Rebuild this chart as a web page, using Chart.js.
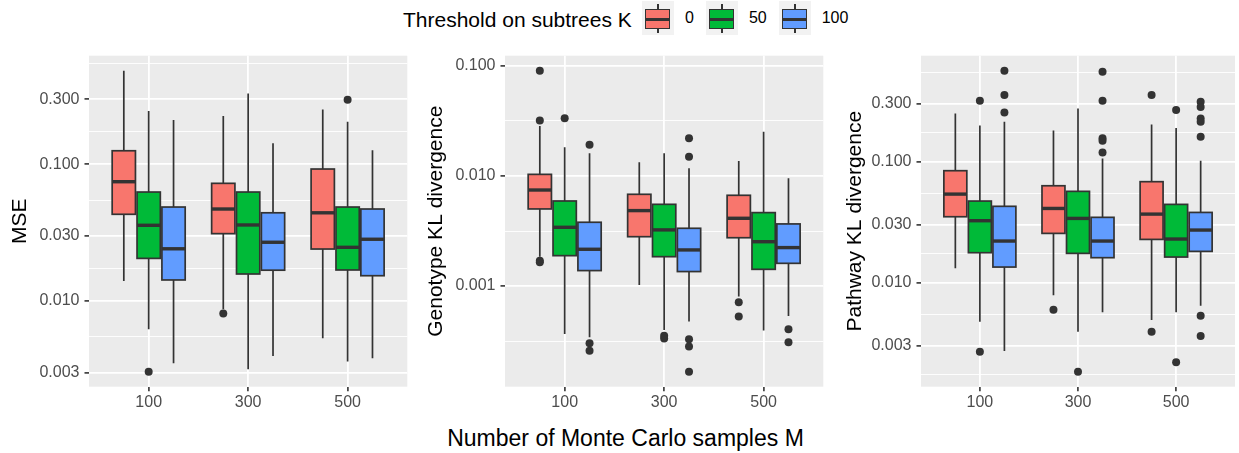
<!DOCTYPE html>
<html>
<head>
<meta charset="utf-8">
<script src="https://cdn.jsdelivr.net/npm/chart.js@4.4.1/dist/chart.umd.min.js"></script>
<style>
  html, body { margin: 0; padding: 0; background: #ffffff; width: 1239px; height: 453px; overflow: hidden;
    font-family: "Liberation Sans", Arial, sans-serif; }
  canvas.panel { position: absolute; top: 0; }
  #legendTitle { position: absolute; left: 403px; top: 9px; font-size: 21px; line-height: 21px; color: #000; white-space: nowrap; }
  #legendKeys { position: absolute; left: 642px; top: 1px; height: 34px; display: flex; align-items: center; }
  .key { position: relative; width: 32px; height: 34px; background: #F2F2F2; }
  .key .wh { position: absolute; left: 15.2px; width: 1.7px; background: #333333; }
  .key .bx { position: absolute; left: 3.4px; top: 8.3px; width: 25px; height: 19.3px; box-sizing: border-box; border: 1.7px solid #333333; }
  .key .md { position: absolute; left: 3.4px; width: 25px; top: 16.5px; height: 3px; background: #333333; }
  .klab { font-size: 16px; line-height: 16px; color: #000; margin-left: 11px; margin-right: 12px; }
  #xTitle { position: absolute; left: 0; width: 1251px; top: 427px; text-align: center; font-size: 23px; line-height: 23px; color: #000; white-space: nowrap; }
</style>
</head>
<body>
<div id="legendTitle">Threshold on subtrees K</div>
<div id="legendKeys"></div>
<canvas id="p1" class="panel" width="412" height="420" style="left:0px"></canvas>
<canvas id="p2" class="panel" width="413" height="420" style="left:415px"></canvas>
<canvas id="p3" class="panel" width="405" height="420" style="left:834px"></canvas>
<div id="xTitle">Number of Monte Carlo samples M</div>
<script>
// ---------------- DATA ----------------
const categories = ['100', '300', '500'];          // Monte Carlo samples M
const thresholds = ['0', '50', '100'];             // threshold on subtrees K
const fillColors = ['#F8766D', '#00BA38', '#619CFF'];

// rows = K (0, 50, 100); columns = M (100, 300, 500)
// ---- MSE ----
const mseLower  = [[0.0140, 0.0087, 0.00533], [0.00621, 0.00317, 0.0036], [0.0035, 0.00396, 0.00381]];
const mseQ1     = [[0.0431, 0.0311, 0.0240], [0.0205, 0.01576, 0.01686], [0.01425, 0.0168, 0.01531]];
const mseMedian = [[0.0746, 0.0471, 0.0442], [0.0358, 0.0360, 0.0247], [0.0241, 0.0269, 0.0283]];
const mseQ3     = [[0.1257, 0.0726, 0.0924], [0.0627, 0.0627, 0.0487], [0.0487, 0.0442, 0.0471]];
const mseUpper  = [[0.484, 0.2254, 0.252], [0.2455, 0.330, 0.205], [0.211, 0.1425, 0.127]];
const mseOutliers = [[[], [0.0081], []], [[0.00304], [], [0.297]], [[], [], []]];
const mseBreaks = [0.003, 0.01, 0.03, 0.1, 0.3];
const mseBreakLabels = ['0.003', '0.010', '0.030', '0.100', '0.300'];

// ---- Genotype KL divergence ----
const genLower  = [[0.00185, 0.001025, 0.000803], [0.000368, 0.0004, 0.000395], [0.000343, 0.000476, 0.000536]];
const genQ1     = [[0.00502, 0.00281, 0.00275], [0.00189, 0.00185, 0.00142], [0.001383, 0.001355, 0.00161]];
const genMedian = [[0.00746, 0.00485, 0.00413], [0.00342, 0.00324, 0.00253], [0.00216, 0.00213, 0.002237]];
const genQ3     = [[0.01035, 0.00682, 0.00668], [0.00593, 0.00553, 0.00465], [0.0038, 0.00335, 0.00367]];
const genUpper  = [[0.0284, 0.0133, 0.01368], [0.0182, 0.01607, 0.0252], [0.01607, 0.01174, 0.00952]];
const genOutliers = [
  [[0.0904, 0.032, 0.0017, 0.00165], [], [0.000713, 0.000529]],
  [[0.0334], [0.000353, 0.000334], []],
  [[0.0192, 0.000303, 0.000258], [0.022, 0.01498, 0.000329, 0.000282, 0.000167], [0.000406, 0.000309]]
];
const genBreaks = [0.001, 0.01, 0.1];
const genBreakLabels = ['0.001', '0.010', '0.100'];

// ---- Pathway KL divergence ----
const pathLower  = [[0.01314, 0.00786, 0.00491], [0.00476, 0.00394, 0.00569], [0.002725, 0.00569, 0.00645]];
const pathQ1     = [[0.0351, 0.02557, 0.0228], [0.0177, 0.01748, 0.0163], [0.01347, 0.0161, 0.01815]];
const pathMedian = [[0.0540, 0.0411, 0.0369], [0.03255, 0.0340, 0.02296], [0.0221, 0.0221, 0.02724]];
const pathQ3     = [[0.0843, 0.0633, 0.0684], [0.0473, 0.0569, 0.0444], [0.0428, 0.0347, 0.0381]];
const pathUpper  = [[0.2507, 0.1816, 0.2035], [0.1997, 0.276, 0.1897], [0.214, 0.1065, 0.1019]];
const pathOutliers = [
  [[], [0.00598], [0.3556, 0.00394]],
  [[0.319, 0.00269], [0.00184], [0.2673, 0.0022]],
  [[0.565, 0.3556, 0.2557], [0.554, 0.319, 0.156, 0.149, 0.1194], [0.313, 0.284, 0.228, 0.214, 0.1607, 0.00534, 0.003624]]
];
const pathBreaks = [0.003, 0.01, 0.03, 0.1, 0.3];
const pathBreakLabels = ['0.003', '0.010', '0.030', '0.100', '0.300'];

// ---------------- STYLE ----------------
const DODGE = 0.25;      // dodge width per group (x units)
const BOX_HALF = 0.117;  // half box width (x units)
const LINE = '#333333';
const TICK_COLOR = '#4D4D4D';
Chart.defaults.font.family = '"Liberation Sans", Arial, sans-serif';

// legend (HTML)
const legendKeys = document.getElementById('legendKeys');
thresholds.forEach((t, i) => {
  const k = document.createElement('div');
  k.className = 'key';
  k.innerHTML = '<div class="wh" style="top:3.3px;height:5.5px"></div>' +
                '<div class="wh" style="top:27.5px;height:4.8px"></div>' +
                '<div class="bx" style="background:' + fillColors[i] + '"></div>' +
                '<div class="md"></div>';
  legendKeys.appendChild(k);
  const l = document.createElement('div');
  l.className = 'klab';
  l.textContent = t;
  legendKeys.appendChild(l);
});

function near(a, b) { return Math.abs(Math.log10(a) - Math.log10(b)) < 1e-6; }

function makePanel(id, p) {
  // axis limits: data range expanded by 5% in log space
  const all = [];
  for (let g = 0; g < 3; g++) for (let c = 0; c < 3; c++) {
    all.push(p.lower[g][c], p.upper[g][c]);
    p.outliers[g][c].forEach(v => all.push(v));
  }
  const lmin = Math.log10(Math.min(...all)), lmax = Math.log10(Math.max(...all));
  const ex = (lmax - lmin) * 0.05;
  const yMin = Math.pow(10, lmin - ex), yMax = Math.pow(10, lmax + ex);

  // minor breaks: geometric midpoints of neighbouring majors (extended by one step)
  const b = p.breaks;
  const ext = [b[0] / (b[2] / b[1]), ...b, b[b.length - 1] * (b[b.length - 2] / b[b.length - 3])];
  const minor = [];
  for (let i = 0; i < ext.length - 1; i++) {
    const m = Math.sqrt(ext[i] * ext[i + 1]);
    if (m > yMin && m < yMax) minor.push(m);
  }
  const isMajor = v => b.some(x => near(x, v));

  const points = [];
  for (let g = 0; g < 3; g++) for (let c = 0; c < 3; c++)
    p.outliers[g][c].forEach(v => points.push({ x: c + 1 + (g - 1) * DODGE, y: v }));

  const boxPlugin = {
    id: 'boxes' + id,
    beforeDraw(chart) {
      const a = chart.chartArea, ctx = chart.ctx;
      ctx.save();
      ctx.fillStyle = '#EBEBEB';
      ctx.fillRect(a.left, a.top, a.right - a.left, a.bottom - a.top);
      ctx.restore();
    },
    beforeDatasetsDraw(chart) {
      const xs = chart.scales.x, ys = chart.scales.y, ctx = chart.ctx;
      ctx.save();
      for (let g = 0; g < 3; g++) for (let c = 0; c < 3; c++) {
        const xc = c + 1 + (g - 1) * DODGE;
        const px = xs.getPixelForValue(xc);
        const pl = xs.getPixelForValue(xc - BOX_HALF), pr = xs.getPixelForValue(xc + BOX_HALF);
        const yLo = ys.getPixelForValue(p.lower[g][c]);
        const yQ1 = ys.getPixelForValue(p.q1[g][c]);
        const yMd = ys.getPixelForValue(p.median[g][c]);
        const yQ3 = ys.getPixelForValue(p.q3[g][c]);
        const yHi = ys.getPixelForValue(p.upper[g][c]);
        ctx.strokeStyle = LINE;
        ctx.lineWidth = 1.7;
        ctx.lineCap = 'butt';
        ctx.beginPath();
        ctx.moveTo(px, yQ3); ctx.lineTo(px, yHi);
        ctx.moveTo(px, yQ1); ctx.lineTo(px, yLo);
        ctx.stroke();
        ctx.fillStyle = fillColors[g];
        ctx.fillRect(pl, yQ3, pr - pl, yQ1 - yQ3);
        ctx.strokeRect(pl, yQ3, pr - pl, yQ1 - yQ3);
        ctx.lineWidth = 3.4;
        ctx.beginPath();
        ctx.moveTo(pl, yMd); ctx.lineTo(pr, yMd);
        ctx.stroke();
      }
      ctx.restore();
    }
  };

  return new Chart(document.getElementById(id), {
    type: 'scatter',
    data: {
      datasets: [{
        data: points,
        pointRadius: 4,
        pointHoverRadius: 4,
        pointBackgroundColor: LINE,
        pointBorderWidth: 0,
        borderWidth: 0
      }]
    },
    options: {
      responsive: false,
      animation: false,
      events: [],
      layout: { padding: { top: 55.7, left: 0, right: p.padRight, bottom: 0 } },
      plugins: { legend: { display: false }, tooltip: { enabled: false } },
      scales: {
        x: {
          type: 'linear',
          min: 0.4, max: 3.6,
          afterBuildTicks(s) { s.ticks = categories.map((_, i) => ({ value: i + 1 })); },
          afterFit(s) { s.height = 33.3; },
          ticks: {
            autoSkip: false, maxRotation: 0, padding: 2,
            color: TICK_COLOR, font: { size: 16 },
            callback: v => categories[Math.round(v) - 1]
          },
          grid: { color: '#FFFFFF', lineWidth: 1.8, tickColor: LINE, tickWidth: 1.6, tickLength: 4.5, drawTicks: true },
          border: { display: false }
        },
        y: {
          type: 'logarithmic',
          min: yMin, max: yMax,
          afterBuildTicks(s) {
            s.ticks = [...b, ...minor].sort((u, v) => u - v).map(v => ({ value: v }));
          },
          afterFit(s) { s.width = p.axisWidth; },
          ticks: {
            autoSkip: false, padding: 5,
            color: TICK_COLOR, font: { size: 16 },
            callback: v => { const i = b.findIndex(x => near(x, v)); return i >= 0 ? p.labels[i] : ''; }
          },
          grid: {
            color: '#FFFFFF',
            lineWidth: ctx => (ctx.tick && isMajor(ctx.tick.value)) ? 1.8 : 0.9,
            tickColor: ctx => (ctx.tick && isMajor(ctx.tick.value)) ? LINE : 'rgba(0,0,0,0)',
            tickWidth: 1.6,
            tickLength: 4.5,
            drawTicks: true
          },
          border: { display: false },
          title: {
            display: true, text: p.title, color: '#000000',
            font: { size: 21 }, padding: { top: p.titlePad, bottom: 0 }
          }
        }
      }
    },
    plugins: [boxPlugin]
  });
}

makePanel('p1', { lower: mseLower, q1: mseQ1, median: mseMedian, q3: mseQ3, upper: mseUpper,
  outliers: mseOutliers, breaks: mseBreaks, labels: mseBreakLabels, title: 'MSE',
  axisWidth: 89, padRight: 4.7, titlePad: 7.9 });
makePanel('p2', { lower: genLower, q1: genQ1, median: genMedian, q3: genQ3, upper: genUpper,
  outliers: genOutliers, breaks: genBreaks, labels: genBreakLabels, title: 'Genotype KL divergence',
  axisWidth: 90, padRight: 4.7, titlePad: 9.1 });
makePanel('p3', { lower: pathLower, q1: pathQ1, median: pathMedian, q3: pathQ3, upper: pathUpper,
  outliers: pathOutliers, breaks: pathBreaks, labels: pathBreakLabels, title: 'Pathway KL divergence',
  axisWidth: 87, padRight: 0, titlePad: 8.4 });
</script>
</body>
</html>
